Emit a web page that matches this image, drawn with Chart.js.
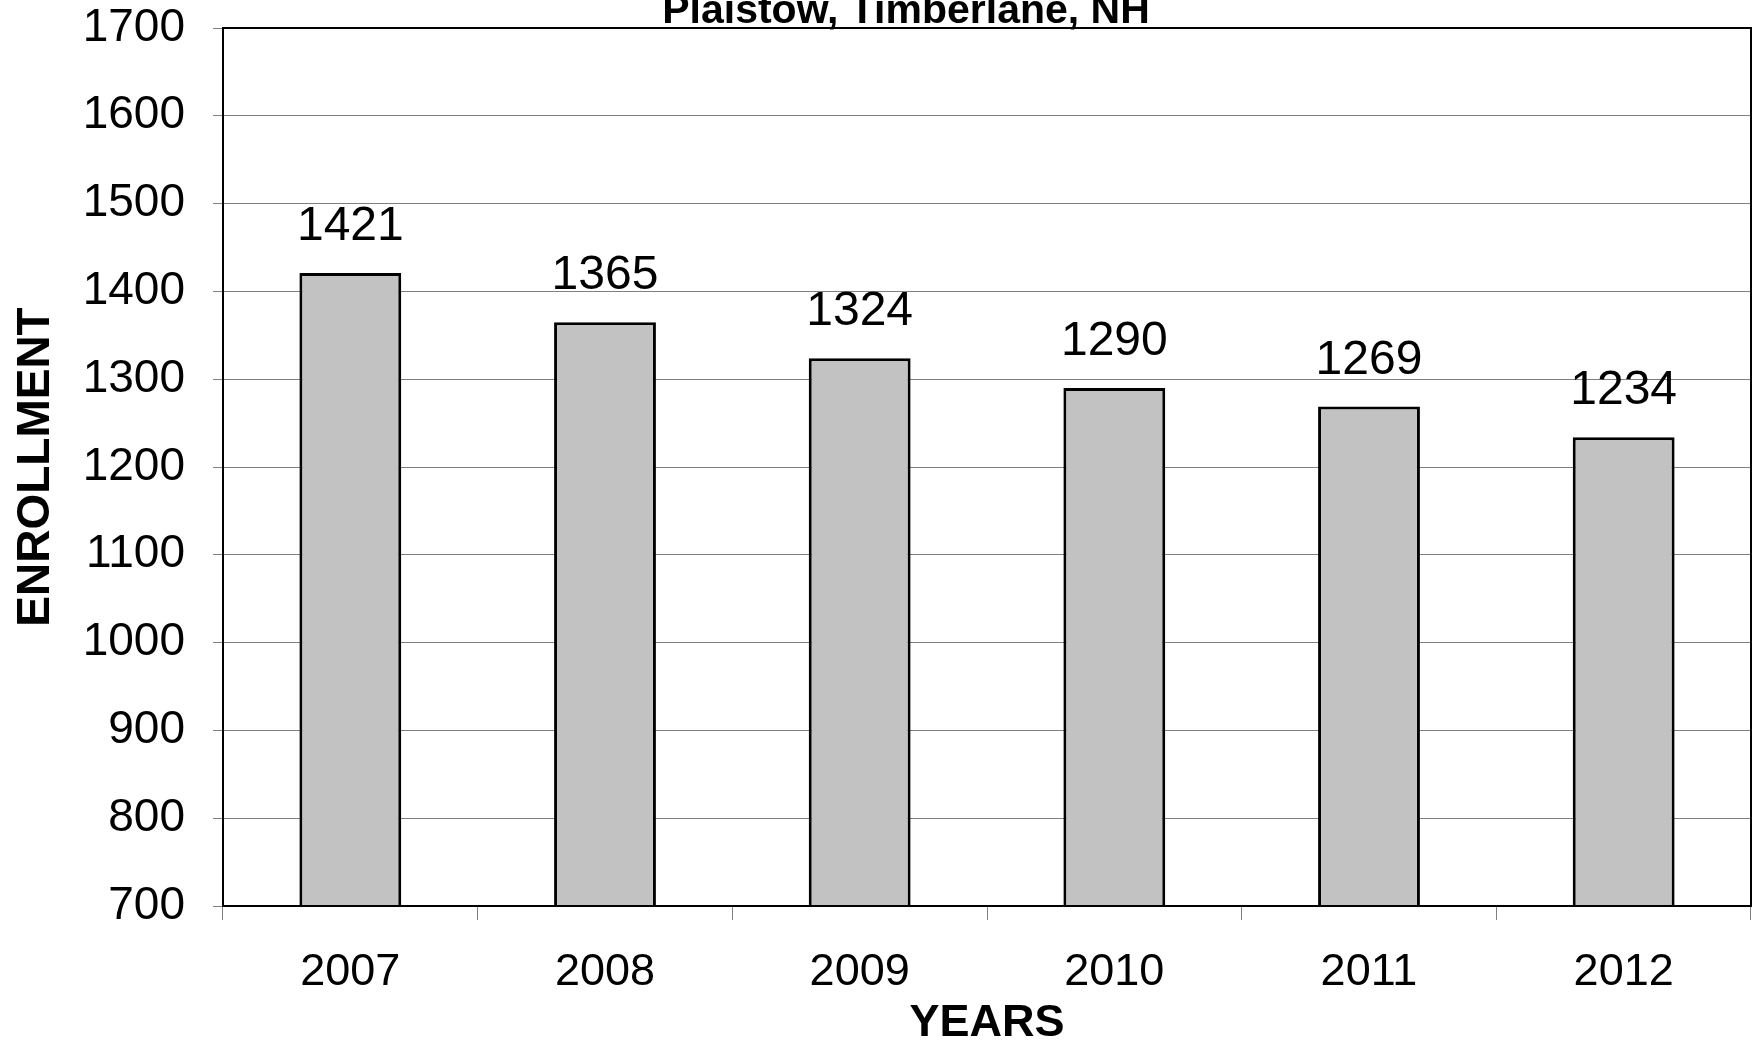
<!DOCTYPE html>
<html>
<head>
<meta charset="utf-8">
<script src="https://cdn.jsdelivr.net/npm/chart.js@4.4.1/dist/chart.umd.min.js"></script>
<style>
  body { margin: 0; background: #fff; }
  canvas { display: block; }
</style>
</head>
<body>
<canvas id="enrollChart" width="1754" height="1054"></canvas>
<script>
const years = ['2007', '2008', '2009', '2010', '2011', '2012'];
const enrollment = [1421, 1365, 1324, 1290, 1269, 1234];
const yMin = 700;
const yMax = 1700;
const yStep = 100;

const chartTitle = 'Plaistow, Timberlane, NH';
const xTitle = 'YEARS';
const yTitle = 'ENROLLMENT';

const FONT = '"Liberation Sans", Arial, sans-serif';

// box round the plot, plus the title which is half cut off by the page edge
const framePlugin = {
  id: 'frame',
  afterDraw(chart) {
    const {ctx, chartArea: a} = chart;
    ctx.save();
    ctx.strokeStyle = '#000';
    ctx.lineWidth = 2;
    ctx.strokeRect(a.left, a.top, a.right - a.left, a.bottom - a.top);

    ctx.fillStyle = '#000';
    ctx.font = 'bold 41px ' + FONT;
    ctx.textAlign = 'center';
    ctx.textBaseline = 'alphabetic';
    ctx.fillText(chartTitle, 906, 23);
    ctx.restore();
  }
};

// numbers above the bars
const valueLabels = {
  id: 'valueLabels',
  afterDatasetsDraw(chart) {
    const {ctx} = chart;
    const meta = chart.getDatasetMeta(0);
    ctx.save();
    ctx.font = '48px ' + FONT;
    ctx.fillStyle = '#000';
    ctx.textAlign = 'center';
    ctx.textBaseline = 'middle';
    meta.data.forEach((bar, i) => {
      ctx.fillText(String(enrollment[i]), bar.x, bar.y - 46);
    });
    ctx.restore();
  }
};

const ctx = document.getElementById('enrollChart').getContext('2d');

const enrollChart = new Chart(ctx, {
  type: 'bar',
  data: {
    labels: years,
    datasets: [{
      label: 'Enrollment',
      data: enrollment,
      backgroundColor: '#c2c2c2',
      borderColor: '#000',
      borderWidth: 3,
      categoryPercentage: 1.0,
      barPercentage: 0.4
    }]
  },
  options: {
    responsive: false,
    animation: false,
    layout: {padding: {top: 28, right: 3, left: 0, bottom: 0}},
    plugins: {
      legend: {display: false},
      title: {display: false},
      tooltip: {enabled: false}
    },
    scales: {
      x: {
        grid: {
          offset: true,
          drawOnChartArea: false,
          drawTicks: true,
          tickLength: 14,
          color: '#808080'
        },
        border: {display: false},
        ticks: {
          color: '#000',
          font: {family: FONT, size: 45},
          padding: 26
        },
        title: {
          display: true,
          text: xTitle,
          color: '#000',
          font: {family: FONT, size: 45, weight: 'bold'},
          padding: {top: 0, bottom: 3}
        },
        afterFit(scale) { scale.height = 148; }
      },
      y: {
        min: yMin,
        max: yMax,
        grid: {
          color: '#808080',
          lineWidth: 1,
          tickLength: 10
        },
        border: {display: false},
        ticks: {
          stepSize: yStep,
          color: '#000',
          font: {family: FONT, size: 46},
          padding: 28,
          callback: (value) => String(value)
        },
        title: {
          display: true,
          text: yTitle,
          color: '#000',
          font: {family: FONT, size: 46, weight: 'bold'},
          padding: {top: 9, bottom: 0}
        },
        afterFit(scale) {
          scale.width = 223;
          // let the top label hang above the plot instead of pushing it down
          scale.paddingTop = 0;
          scale.paddingBottom = 0;
        }
      }
    }
  },
  plugins: [framePlugin, valueLabels]
});
</script>
</body>
</html>
